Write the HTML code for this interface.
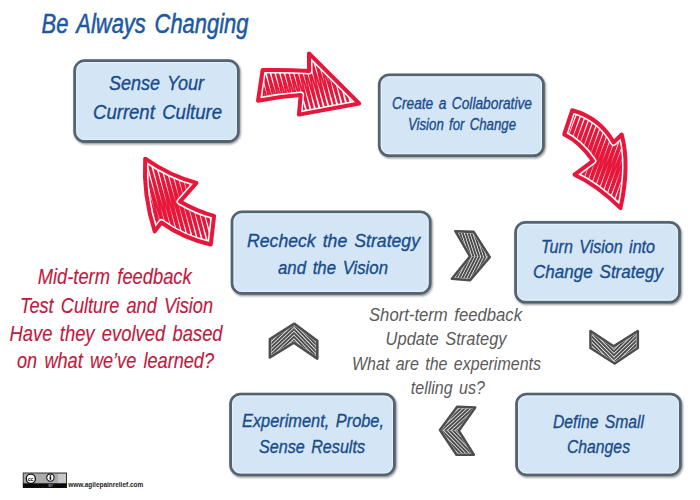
<!DOCTYPE html>
<html><head><meta charset="utf-8"><style>
html,body{margin:0;padding:0;background:#fff;width:700px;height:500px;overflow:hidden}
svg{display:block}
text{font-family:"Liberation Sans",sans-serif;font-style:italic;word-spacing:0.12em}
</style></head><body>
<svg width="700" height="500" viewBox="0 0 700 500">
<defs><filter id="sh" x="-10%" y="-10%" width="120%" height="120%"><feGaussianBlur stdDeviation="0.9"/></filter></defs>
<rect width="700" height="500" fill="#fff"/>
<text x="41.5" y="32.6" textLength="207" lengthAdjust="spacingAndGlyphs" font-size="27" fill="#1d58a0" stroke="#1d58a0" stroke-width="0.55">Be Always Changing</text>
<rect x="75.70" y="62.00" width="163.60" height="80.80" rx="10" fill="none" stroke="#000" stroke-opacity="0.45" stroke-width="2.8" filter="url(#sh)"/><rect x="74.70" y="60.70" width="163.60" height="80.80" rx="10" fill="#d4e6f6" stroke="#526371" stroke-width="2.8"/><rect x="76.70" y="62.70" width="159.60" height="76.80" rx="7" fill="none" stroke="#eef7fd" stroke-opacity="0.7" stroke-width="1"/>
<rect x="380.30" y="76.10" width="164.10" height="80.80" rx="10" fill="none" stroke="#000" stroke-opacity="0.45" stroke-width="2.8" filter="url(#sh)"/><rect x="379.30" y="74.80" width="164.10" height="80.80" rx="10" fill="#d4e6f6" stroke="#526371" stroke-width="2.8"/><rect x="381.30" y="76.80" width="160.10" height="76.80" rx="7" fill="none" stroke="#eef7fd" stroke-opacity="0.7" stroke-width="1"/>
<rect x="516.60" y="223.70" width="163.90" height="79.70" rx="10" fill="none" stroke="#000" stroke-opacity="0.45" stroke-width="2.8" filter="url(#sh)"/><rect x="515.60" y="222.40" width="163.90" height="79.70" rx="10" fill="#d4e6f6" stroke="#526371" stroke-width="2.8"/><rect x="517.60" y="224.40" width="159.90" height="75.70" rx="7" fill="none" stroke="#eef7fd" stroke-opacity="0.7" stroke-width="1"/>
<rect x="233.10" y="213.10" width="198.00" height="81.50" rx="10" fill="none" stroke="#000" stroke-opacity="0.45" stroke-width="2.8" filter="url(#sh)"/><rect x="232.10" y="211.80" width="198.00" height="81.50" rx="10" fill="#d4e6f6" stroke="#526371" stroke-width="2.8"/><rect x="234.10" y="213.80" width="194.00" height="77.50" rx="7" fill="none" stroke="#eef7fd" stroke-opacity="0.7" stroke-width="1"/>
<rect x="231.60" y="395.40" width="163.80" height="80.70" rx="10" fill="none" stroke="#000" stroke-opacity="0.45" stroke-width="2.8" filter="url(#sh)"/><rect x="230.60" y="394.10" width="163.80" height="80.70" rx="10" fill="#d4e6f6" stroke="#526371" stroke-width="2.8"/><rect x="232.60" y="396.10" width="159.80" height="76.70" rx="7" fill="none" stroke="#eef7fd" stroke-opacity="0.7" stroke-width="1"/>
<rect x="517.60" y="395.40" width="163.80" height="80.70" rx="10" fill="none" stroke="#000" stroke-opacity="0.45" stroke-width="2.8" filter="url(#sh)"/><rect x="516.60" y="394.10" width="163.80" height="80.70" rx="10" fill="#d4e6f6" stroke="#526371" stroke-width="2.8"/><rect x="518.60" y="396.10" width="159.80" height="76.70" rx="7" fill="none" stroke="#eef7fd" stroke-opacity="0.7" stroke-width="1"/>
<text x="109" y="90.3" textLength="95" lengthAdjust="spacingAndGlyphs" font-size="19.5" fill="#194c8a" stroke="#194c8a" stroke-width="0.35">Sense Your</text>
<text x="93" y="118.8" textLength="129" lengthAdjust="spacingAndGlyphs" font-size="19.5" fill="#194c8a" stroke="#194c8a" stroke-width="0.35">Current Culture</text>
<text x="392" y="109" textLength="140" lengthAdjust="spacingAndGlyphs" font-size="16" fill="#194c8a" stroke="#194c8a" stroke-width="0.35">Create a Collaborative</text>
<text x="408" y="129.5" textLength="108" lengthAdjust="spacingAndGlyphs" font-size="16.5" fill="#194c8a" stroke="#194c8a" stroke-width="0.35">Vision for Change</text>
<text x="541" y="252.5" textLength="114" lengthAdjust="spacingAndGlyphs" font-size="19" fill="#194c8a" stroke="#194c8a" stroke-width="0.35">Turn Vision into</text>
<text x="533" y="278.3" textLength="130" lengthAdjust="spacingAndGlyphs" font-size="19" fill="#194c8a" stroke="#194c8a" stroke-width="0.35">Change Strategy</text>
<text x="247" y="247" textLength="173" lengthAdjust="spacingAndGlyphs" font-size="19" fill="#194c8a" stroke="#194c8a" stroke-width="0.35">Recheck the Strategy</text>
<text x="278" y="273.8" textLength="110" lengthAdjust="spacingAndGlyphs" font-size="19" fill="#194c8a" stroke="#194c8a" stroke-width="0.35">and the Vision</text>
<text x="242" y="427" textLength="142" lengthAdjust="spacingAndGlyphs" font-size="19" fill="#194c8a" stroke="#194c8a" stroke-width="0.35">Experiment, Probe,</text>
<text x="259" y="453" textLength="106" lengthAdjust="spacingAndGlyphs" font-size="19" fill="#194c8a" stroke="#194c8a" stroke-width="0.35">Sense Results</text>
<text x="553" y="428" textLength="91" lengthAdjust="spacingAndGlyphs" font-size="19" fill="#194c8a" stroke="#194c8a" stroke-width="0.35">Define Small</text>
<text x="567" y="453" textLength="63" lengthAdjust="spacingAndGlyphs" font-size="19" fill="#194c8a" stroke="#194c8a" stroke-width="0.35">Changes</text>
<text x="37.7" y="284" textLength="154" lengthAdjust="spacingAndGlyphs" font-size="22" fill="#c01a3e" stroke="#c01a3e" stroke-width="0.15">Mid-term feedback</text>
<text x="20" y="312.5" textLength="193" lengthAdjust="spacingAndGlyphs" font-size="22" fill="#c01a3e" stroke="#c01a3e" stroke-width="0.15">Test Culture and Vision</text>
<text x="9.6" y="340.5" textLength="213" lengthAdjust="spacingAndGlyphs" font-size="22" fill="#c01a3e" stroke="#c01a3e" stroke-width="0.15">Have they evolved based</text>
<text x="17" y="368" textLength="197" lengthAdjust="spacingAndGlyphs" font-size="22" fill="#c01a3e" stroke="#c01a3e" stroke-width="0.15">on what we’ve learned?</text>
<text x="369" y="321" textLength="153" lengthAdjust="spacingAndGlyphs" font-size="19" fill="#5a5a5a">Short-term feedback</text>
<text x="385.6" y="345.3" textLength="121" lengthAdjust="spacingAndGlyphs" font-size="19" fill="#5a5a5a">Update Strategy</text>
<text x="352" y="370.3" textLength="189" lengthAdjust="spacingAndGlyphs" font-size="19" fill="#5a5a5a">What are the experiments</text>
<text x="410.8" y="394" textLength="74" lengthAdjust="spacingAndGlyphs" font-size="19" fill="#5a5a5a">telling us?</text>
<clipPath id="c1"><path d="M262.6,70.1 Q286,69.5 309,71 L309,53.4 L359.2,103.5 L298.9,114.6 L300.7,95.1 Q280,96.5 258,100.7 Z"/></clipPath><g clip-path="url(#c1)"><path d="M227.4,50.0 L229.6,118.0 L231.9,50.0 L234.1,118.0 L236.4,50.0 L238.6,118.0 L240.9,50.0 L243.1,118.0 L245.4,50.0 L247.6,118.0 L249.9,50.0 L252.1,118.0 L254.4,50.0 L256.6,118.0 L258.9,50.0 L261.1,118.0 L263.4,50.0 L265.6,118.0 L267.9,50.0 L270.1,118.0 L272.4,50.0 L274.6,118.0 L276.9,50.0 L279.1,118.0 L281.4,50.0 L283.6,118.0 L285.9,50.0 L288.1,118.0 L290.4,50.0 L292.6,118.0 L294.9,50.0 L297.1,118.0 L299.4,50.0 L301.6,118.0 L303.9,50.0 L306.1,118.0 L308.4,50.0 L310.6,118.0 L312.9,50.0 L315.1,118.0 L317.4,50.0 L319.6,118.0 L321.9,50.0 L324.1,118.0 L326.4,50.0 L328.6,118.0 L330.9,50.0 L333.1,118.0 L335.4,50.0 L337.6,118.0 L339.9,50.0 L342.1,118.0 L344.4,50.0 L346.6,118.0 L348.9,50.0 L351.1,118.0 L353.4,50.0 L355.6,118.0 L357.9,50.0 L360.1,118.0 L362.4,50.0 L364.6,118.0 L366.9,50.0 L369.1,118.0 L371.4,50.0 L373.6,118.0 L375.9,50.0 L378.1,118.0 L380.4,50.0 L382.6,118.0 L384.9,50.0 L387.1,118.0 L389.4,50.0 L391.6,118.0 L393.9,50.0" fill="none" stroke="#e6173b" stroke-width="2.0" transform="rotate(-15 309.0 84.0)"/><path d="M262.6,70.1 Q286,69.5 309,71 L309,53.4 L359.2,103.5 L298.9,114.6 L300.7,95.1 Q280,96.5 258,100.7 Z" fill="none" stroke="#fff" stroke-width="7" stroke-linejoin="round"/></g><path d="M262.6,70.1 Q286,69.5 309,71 L309,53.4 L359.2,103.5 L298.9,114.6 L300.7,95.1 Q280,96.5 258,100.7 Z" fill="none" stroke="#e6173b" stroke-width="4" stroke-linejoin="round"/>
<clipPath id="c2"><path d="M572.2,110.3 Q600,118 613.6,142.5 L621.7,134.5 Q630,165 620.5,208.1 Q597,185 574.5,174.7 L593,160.9 Q580,142 564.2,134.5 Z"/></clipPath><g clip-path="url(#c2)"><path d="M514.7,99.5 L517.0,219.5 L519.2,99.5 L521.5,219.5 L523.7,99.5 L526.0,219.5 L528.2,99.5 L530.5,219.5 L532.7,99.5 L535.0,219.5 L537.2,99.5 L539.5,219.5 L541.7,99.5 L544.0,219.5 L546.2,99.5 L548.5,219.5 L550.7,99.5 L553.0,219.5 L555.2,99.5 L557.5,219.5 L559.7,99.5 L562.0,219.5 L564.2,99.5 L566.5,219.5 L568.7,99.5 L571.0,219.5 L573.2,99.5 L575.5,219.5 L577.7,99.5 L580.0,219.5 L582.2,99.5 L584.5,219.5 L586.7,99.5 L589.0,219.5 L591.2,99.5 L593.5,219.5 L595.7,99.5 L598.0,219.5 L600.2,99.5 L602.5,219.5 L604.7,99.5 L607.0,219.5 L609.2,99.5 L611.5,219.5 L613.7,99.5 L616.0,219.5 L618.2,99.5 L620.5,219.5 L622.7,99.5 L625.0,219.5 L627.2,99.5 L629.5,219.5 L631.7,99.5 L634.0,219.5 L636.2,99.5 L638.5,219.5 L640.7,99.5 L643.0,219.5 L645.2,99.5 L647.5,219.5 L649.7,99.5 L652.0,219.5 L654.2,99.5 L656.5,219.5 L658.7,99.5 L661.0,219.5 L663.2,99.5 L665.5,219.5 L667.7,99.5 L670.0,219.5 L672.2,99.5 L674.5,219.5 L676.7,99.5 L679.0,219.5" fill="none" stroke="#e6173b" stroke-width="2.2" transform="rotate(20 595.5 159.5)"/><path d="M572.2,110.3 Q600,118 613.6,142.5 L621.7,134.5 Q630,165 620.5,208.1 Q597,185 574.5,174.7 L593,160.9 Q580,142 564.2,134.5 Z" fill="none" stroke="#fff" stroke-width="7" stroke-linejoin="round"/></g><path d="M572.2,110.3 Q600,118 613.6,142.5 L621.7,134.5 Q630,165 620.5,208.1 Q597,185 574.5,174.7 L593,160.9 Q580,142 564.2,134.5 Z" fill="none" stroke="#e6173b" stroke-width="4" stroke-linejoin="round"/>
<clipPath id="c3"><path d="M145.2,158.7 Q170,176 196.5,182.9 L180,201.6 Q198,212 214.1,215.9 L210.8,244.5 Q183,238 161.3,222.5 L154.7,231.3 Q143,195 145.2,158.7 Z"/></clipPath><g clip-path="url(#c3)"><path d="M110.4,141.5 L112.6,261.5 L114.9,141.5 L117.1,261.5 L119.4,141.5 L121.6,261.5 L123.9,141.5 L126.1,261.5 L128.4,141.5 L130.6,261.5 L132.9,141.5 L135.1,261.5 L137.4,141.5 L139.6,261.5 L141.9,141.5 L144.1,261.5 L146.4,141.5 L148.6,261.5 L150.9,141.5 L153.1,261.5 L155.4,141.5 L157.6,261.5 L159.9,141.5 L162.1,261.5 L164.4,141.5 L166.6,261.5 L168.9,141.5 L171.1,261.5 L173.4,141.5 L175.6,261.5 L177.9,141.5 L180.1,261.5 L182.4,141.5 L184.6,261.5 L186.9,141.5 L189.1,261.5 L191.4,141.5 L193.6,261.5 L195.9,141.5 L198.1,261.5 L200.4,141.5 L202.6,261.5 L204.9,141.5 L207.1,261.5 L209.4,141.5 L211.6,261.5 L213.9,141.5 L216.1,261.5 L218.4,141.5 L220.6,261.5 L222.9,141.5 L225.1,261.5 L227.4,141.5 L229.6,261.5 L231.9,141.5 L234.1,261.5 L236.4,141.5 L238.6,261.5 L240.9,141.5 L243.1,261.5 L245.4,141.5 L247.6,261.5 L249.9,141.5 L252.1,261.5" fill="none" stroke="#e6173b" stroke-width="2.2" transform="rotate(-15 180.0 201.5)"/><path d="M145.2,158.7 Q170,176 196.5,182.9 L180,201.6 Q198,212 214.1,215.9 L210.8,244.5 Q183,238 161.3,222.5 L154.7,231.3 Q143,195 145.2,158.7 Z" fill="none" stroke="#fff" stroke-width="7" stroke-linejoin="round"/></g><path d="M145.2,158.7 Q170,176 196.5,182.9 L180,201.6 Q198,212 214.1,215.9 L210.8,244.5 Q183,238 161.3,222.5 L154.7,231.3 Q143,195 145.2,158.7 Z" fill="none" stroke="#e6173b" stroke-width="4" stroke-linejoin="round"/>
<g><clipPath id="hg0u"><path d="M455.4,231.2 L473.6,231.9 L489.7,257.1 L470.1,256.4 Z"/></clipPath><path clip-path="url(#hg0u)" d="M511.0,189.2 L536.0,265.2 M508.4,190.1 L533.4,266.1 M505.8,190.9 L530.9,266.9 M503.3,191.8 L528.3,267.8 M500.7,192.6 L525.8,268.6 M498.1,193.5 L523.2,269.4 M495.6,194.3 L520.6,270.3 M493.0,195.2 L518.1,271.1 M490.4,196.0 L515.5,272.0 M487.9,196.9 L512.9,272.8 M485.3,197.7 L510.4,273.7 M482.7,198.6 L507.8,274.5 M480.2,199.4 L505.2,275.4 M477.6,200.2 L502.7,276.2 M475.1,201.1 L500.1,277.1 M472.5,201.9 L497.6,277.9 M469.9,202.8 L495.0,278.8 M467.4,203.6 L492.4,279.6 M464.8,204.5 L489.9,280.4 M462.2,205.3 L487.3,281.3 M459.7,206.2 L484.7,282.1 M457.1,207.0 L482.2,283.0 M454.5,207.9 L479.6,283.8 M452.0,208.7 L477.0,284.7 M449.4,209.5 L474.5,285.5 M446.8,210.4 L471.9,286.4 M444.3,211.2 L469.3,287.2 M441.7,212.1 L466.8,288.1 M439.2,212.9 L464.2,288.9 M436.6,213.8 L461.7,289.7 M434.0,214.6 L459.1,290.6 M431.5,215.5 L456.5,291.4 M428.9,216.3 L454.0,292.3 M426.3,217.2 L451.4,293.1 M423.8,218.0 L448.8,294.0 M421.2,218.9 L446.3,294.8 M418.6,219.7 L443.7,295.7 M416.1,220.5 L441.1,296.5 M413.5,221.4 L438.6,297.4 M411.0,222.2 L436.0,298.2 M408.4,223.1 L433.4,299.1 " stroke="#4d4d4d" stroke-width="2.0" fill="none"/><clipPath id="hg0l"><path d="M470.1,256.4 L489.7,257.1 L470.1,280.2 L451.9,278.8 Z"/></clipPath><path clip-path="url(#hg0l)" d="M536.7,257.1 L500.3,328.3 M534.3,255.9 L497.9,327.1 M531.9,254.6 L495.5,325.9 M529.5,253.4 L493.1,324.6 M527.1,252.2 L490.7,323.4 M524.7,251.0 L488.3,322.2 M522.3,249.7 L485.9,321.0 M519.9,248.5 L483.5,319.7 M517.5,247.3 L481.1,318.5 M515.1,246.0 L478.7,317.3 M512.7,244.8 L476.3,316.0 M510.3,243.6 L473.9,314.8 M507.9,242.4 L471.5,313.6 M505.5,241.1 L469.1,312.3 M503.1,239.9 L466.7,311.1 M500.7,238.7 L464.3,309.9 M498.3,237.4 L461.8,308.7 M495.9,236.2 L459.4,307.4 M493.5,235.0 L457.0,306.2 M491.1,233.7 L454.6,305.0 M488.7,232.5 L452.2,303.7 M486.3,231.3 L449.8,302.5 M483.9,230.1 L447.4,301.3 M481.5,228.8 L445.0,300.0 M479.1,227.6 L442.6,298.8 M476.6,226.4 L440.2,297.6 M474.2,225.1 L437.8,296.4 M471.8,223.9 L435.4,295.1 M469.4,222.7 L433.0,293.9 M467.0,221.4 L430.6,292.7 M464.6,220.2 L428.2,291.4 M462.2,219.0 L425.8,290.2 M459.8,217.8 L423.4,289.0 M457.4,216.5 L421.0,287.7 M455.0,215.3 L418.6,286.5 M452.6,214.1 L416.2,285.3 M450.2,212.8 L413.8,284.1 M447.8,211.6 L411.4,282.8 M445.4,210.4 L409.0,281.6 M443.0,209.1 L406.6,280.4 M440.6,207.9 L404.2,279.1 " stroke="#4d4d4d" stroke-width="2.0" fill="none"/><clipPath id="mg0"><path d="M455.4,231.2 L473.6,231.9 L489.7,257.1 L470.1,280.2 L451.9,278.8 L470.1,256.4 Z"/></clipPath><path clip-path="url(#mg0)" d="M455.4,231.2 L473.6,231.9 L489.7,257.1 L470.1,280.2 L451.9,278.8 L470.1,256.4 Z" fill="none" stroke="#fff" stroke-width="3.0" stroke-linejoin="round"/><path d="M455.4,231.2 L473.6,231.9 L489.7,257.1 L470.1,280.2 L451.9,278.8 L470.1,256.4 Z" fill="none" stroke="#4d4d4d" stroke-width="2.6" stroke-linejoin="round"/></g>
<g><clipPath id="hg1u"><path d="M590.5,331 L590.5,348 L614.7,363.5 L613.6,346.4 Z"/></clipPath><path clip-path="url(#hg1u)" d="M613.0,280.9 L668.9,338.1 M611.1,282.8 L667.0,340.0 M609.2,284.7 L665.0,341.9 M607.2,286.5 L663.1,343.8 M605.3,288.4 L661.2,345.7 M603.4,290.3 L659.2,347.6 M601.4,292.2 L657.3,349.4 M599.5,294.1 L655.4,351.3 M597.6,296.0 L653.5,353.2 M595.6,297.9 L651.5,355.1 M593.7,299.7 L649.6,357.0 M591.8,301.6 L647.7,358.9 M589.8,303.5 L645.7,360.8 M587.9,305.4 L643.8,362.6 M586.0,307.3 L641.9,364.5 M584.0,309.2 L639.9,366.4 M582.1,311.1 L638.0,368.3 M580.2,312.9 L636.1,370.2 M578.2,314.8 L634.1,372.1 M576.3,316.7 L632.2,374.0 M574.4,318.6 L630.3,375.8 M572.5,320.5 L628.3,377.7 M570.5,322.4 L626.4,379.6 M568.6,324.3 L624.5,381.5 M566.7,326.1 L622.5,383.4 M564.7,328.0 L620.6,385.3 M562.8,329.9 L618.7,387.2 M560.9,331.8 L616.7,389.1 M558.9,333.7 L614.8,390.9 M557.0,335.6 L612.9,392.8 M555.1,337.5 L610.9,394.7 M553.1,339.3 L609.0,396.6 M551.2,341.2 L607.1,398.5 M549.3,343.1 L605.2,400.4 M547.3,345.0 L603.2,402.3 M545.4,346.9 L601.3,404.1 M543.5,348.8 L599.4,406.0 M541.5,350.7 L597.4,407.9 M539.6,352.6 L595.5,409.8 M537.7,354.4 L593.6,411.7 M535.7,356.3 L591.6,413.6 " stroke="#4d4d4d" stroke-width="2.0" fill="none"/><clipPath id="hg1l"><path d="M613.6,346.4 L614.7,363.5 L637.8,348 L637.8,331 Z"/></clipPath><path clip-path="url(#hg1l)" d="M559.6,336.7 L616.7,280.7 M561.5,338.6 L618.6,282.6 M563.4,340.6 L620.5,284.5 M565.3,342.5 L622.4,286.4 M567.2,344.4 L624.3,288.4 M569.1,346.3 L626.1,290.3 M571.0,348.3 L628.0,292.2 M572.8,350.2 L629.9,294.2 M574.7,352.1 L631.8,296.1 M576.6,354.1 L633.7,298.0 M578.5,356.0 L635.6,299.9 M580.4,357.9 L637.5,301.9 M582.3,359.8 L639.4,303.8 M584.2,361.8 L641.3,305.7 M586.1,363.7 L643.2,307.6 M588.0,365.6 L645.1,309.6 M589.9,367.5 L647.0,311.5 M591.8,369.5 L648.8,313.4 M593.6,371.4 L650.7,315.3 M595.5,373.3 L652.6,317.3 M597.4,375.2 L654.5,319.2 M599.3,377.2 L656.4,321.1 M601.2,379.1 L658.3,323.1 M603.1,381.0 L660.2,325.0 M605.0,383.0 L662.1,326.9 M606.9,384.9 L664.0,328.8 M608.8,386.8 L665.9,330.8 M610.7,388.7 L667.8,332.7 M612.6,390.7 L669.7,334.6 M614.5,392.6 L671.5,336.5 M616.3,394.5 L673.4,338.5 M618.2,396.4 L675.3,340.4 M620.1,398.4 L677.2,342.3 M622.0,400.3 L679.1,344.3 M623.9,402.2 L681.0,346.2 M625.8,404.1 L682.9,348.1 M627.7,406.1 L684.8,350.0 M629.6,408.0 L686.7,352.0 M631.5,409.9 L688.6,353.9 M633.4,411.9 L690.5,355.8 M635.3,413.8 L692.3,357.7 " stroke="#4d4d4d" stroke-width="2.0" fill="none"/><clipPath id="mg1"><path d="M590.5,331 L590.5,348 L614.7,363.5 L637.8,348 L637.8,331 L613.6,346.4 Z"/></clipPath><path clip-path="url(#mg1)" d="M590.5,331 L590.5,348 L614.7,363.5 L637.8,348 L637.8,331 L613.6,346.4 Z" fill="none" stroke="#fff" stroke-width="3.0" stroke-linejoin="round"/><path d="M590.5,331 L590.5,348 L614.7,363.5 L637.8,348 L637.8,331 L613.6,346.4 Z" fill="none" stroke="#4d4d4d" stroke-width="2.6" stroke-linejoin="round"/></g>
<g><clipPath id="hg2u"><path d="M317.3,358.6 L317.3,340.9 L294.4,323.7 L293.9,342.6 Z"/></clipPath><path clip-path="url(#hg2u)" d="M294.2,407.7 L239.0,349.8 M296.2,405.8 L241.0,347.9 M298.2,403.9 L242.9,346.0 M300.1,402.1 L244.9,344.2 M302.1,400.2 L246.9,342.3 M304.0,398.3 L248.8,340.4 M306.0,396.5 L250.8,338.6 M307.9,394.6 L252.7,336.7 M309.9,392.8 L254.7,334.9 M311.8,390.9 L256.6,333.0 M313.8,389.0 L258.6,331.1 M315.7,387.2 L260.5,329.3 M317.7,385.3 L262.5,327.4 M319.7,383.4 L264.4,325.5 M321.6,381.6 L266.4,323.7 M323.6,379.7 L268.4,321.8 M325.5,377.9 L270.3,320.0 M327.5,376.0 L272.3,318.1 M329.4,374.1 L274.2,316.2 M331.4,372.3 L276.2,314.4 M333.3,370.4 L278.1,312.5 M335.3,368.5 L280.1,310.6 M337.2,366.7 L282.0,308.8 M339.2,364.8 L284.0,306.9 M341.1,362.9 L285.9,305.0 M343.1,361.1 L287.9,303.2 M345.1,359.2 L289.8,301.3 M347.0,357.4 L291.8,299.5 M349.0,355.5 L293.8,297.6 M350.9,353.6 L295.7,295.7 M352.9,351.8 L297.7,293.9 M354.8,349.9 L299.6,292.0 M356.8,348.0 L301.6,290.1 M358.7,346.2 L303.5,288.3 M360.7,344.3 L305.5,286.4 M362.6,342.5 L307.4,284.6 M364.6,340.6 L309.4,282.7 M366.5,338.7 L311.3,280.8 M368.5,336.9 L313.3,279.0 M370.5,335.0 L315.2,277.1 M372.4,333.1 L317.2,275.2 " stroke="#4d4d4d" stroke-width="2.0" fill="none"/><clipPath id="hg2l"><path d="M293.9,342.6 L294.4,323.7 L269.9,339.1 L269.9,357.4 Z"/></clipPath><path clip-path="url(#hg2l)" d="M348.2,352.2 L290.4,407.4 M346.4,350.2 L288.5,405.4 M344.5,348.2 L286.6,403.5 M342.7,346.3 L284.8,401.5 M340.8,344.3 L282.9,399.6 M338.9,342.4 L281.0,397.6 M337.1,340.4 L279.2,395.7 M335.2,338.5 L277.3,393.7 M333.3,336.5 L275.5,391.8 M331.5,334.6 L273.6,389.8 M329.6,332.6 L271.7,387.8 M327.7,330.7 L269.9,385.9 M325.9,328.7 L268.0,383.9 M324.0,326.8 L266.1,382.0 M322.1,324.8 L264.3,380.0 M320.3,322.9 L262.4,378.1 M318.4,320.9 L260.5,376.1 M316.6,318.9 L258.7,374.2 M314.7,317.0 L256.8,372.2 M312.8,315.0 L255.0,370.3 M311.0,313.1 L253.1,368.3 M309.1,311.1 L251.2,366.4 M307.2,309.2 L249.4,364.4 M305.4,307.2 L247.5,362.5 M303.5,305.3 L245.6,360.5 M301.6,303.3 L243.8,358.5 M299.8,301.4 L241.9,356.6 M297.9,299.4 L240.0,354.6 M296.1,297.5 L238.2,352.7 M294.2,295.5 L236.3,350.7 M292.3,293.6 L234.4,348.8 M290.5,291.6 L232.6,346.8 M288.6,289.6 L230.7,344.9 M286.7,287.7 L228.9,342.9 M284.9,285.7 L227.0,341.0 M283.0,283.8 L225.1,339.0 M281.1,281.8 L223.3,337.1 M279.3,279.9 L221.4,335.1 M277.4,277.9 L219.5,333.2 M275.5,276.0 L217.7,331.2 M273.7,274.0 L215.8,329.2 " stroke="#4d4d4d" stroke-width="2.0" fill="none"/><clipPath id="mg2"><path d="M317.3,358.6 L317.3,340.9 L294.4,323.7 L269.9,339.1 L269.9,357.4 L293.9,342.6 Z"/></clipPath><path clip-path="url(#mg2)" d="M317.3,358.6 L317.3,340.9 L294.4,323.7 L269.9,339.1 L269.9,357.4 L293.9,342.6 Z" fill="none" stroke="#fff" stroke-width="3.0" stroke-linejoin="round"/><path d="M317.3,358.6 L317.3,340.9 L294.4,323.7 L269.9,339.1 L269.9,357.4 L293.9,342.6 Z" fill="none" stroke="#4d4d4d" stroke-width="2.6" stroke-linejoin="round"/></g>
<g><clipPath id="hg3u"><path d="M475.2,407.5 L457.2,406.8 L440,430 L458.75,430.75 Z"/></clipPath><path clip-path="url(#hg3u)" d="M523.8,431.3 L465.0,485.6 M522.0,429.3 L463.2,483.6 M520.1,427.3 L461.4,481.6 M518.3,425.3 L459.5,479.6 M516.5,423.4 L457.7,477.6 M514.7,421.4 L455.9,475.7 M512.8,419.4 L454.0,473.7 M511.0,417.4 L452.2,471.7 M509.2,415.4 L450.4,469.7 M507.3,413.4 L448.5,467.7 M505.5,411.5 L446.7,465.7 M503.7,409.5 L444.9,463.8 M501.8,407.5 L443.1,461.8 M500.0,405.5 L441.2,459.8 M498.2,403.5 L439.4,457.8 M496.3,401.5 L437.6,455.8 M494.5,399.6 L435.7,453.8 M492.7,397.6 L433.9,451.8 M490.8,395.6 L432.1,449.9 M489.0,393.6 L430.2,447.9 M487.2,391.6 L428.4,445.9 M485.3,389.6 L426.6,443.9 M483.5,387.7 L424.7,441.9 M481.7,385.7 L422.9,439.9 M479.8,383.7 L421.1,438.0 M478.0,381.7 L419.2,436.0 M476.2,379.7 L417.4,434.0 M474.4,377.7 L415.6,432.0 M472.5,375.8 L413.7,430.0 M470.7,373.8 L411.9,428.0 M468.9,371.8 L410.1,426.1 M467.0,369.8 L408.3,424.1 M465.2,367.8 L406.4,422.1 M463.4,365.8 L404.6,420.1 M461.5,363.9 L402.8,418.1 M459.7,361.9 L400.9,416.1 M457.9,359.9 L399.1,414.2 M456.0,357.9 L397.3,412.2 M454.2,355.9 L395.4,410.2 M452.4,353.9 L393.6,408.2 M450.5,352.0 L391.8,406.2 " stroke="#4d4d4d" stroke-width="2.0" fill="none"/><clipPath id="hg3l"><path d="M458.75,430.75 L440,430 L456.5,454.8 L473.75,454.8 Z"/></clipPath><path clip-path="url(#hg3l)" d="M468.4,376.3 L523.9,433.9 M466.4,378.2 L521.9,435.8 M464.5,380.1 L520.0,437.7 M462.5,381.9 L518.1,439.5 M460.6,383.8 L516.1,441.4 M458.6,385.7 L514.2,443.3 M456.7,387.6 L512.2,445.1 M454.8,389.4 L510.3,447.0 M452.8,391.3 L508.3,448.9 M450.9,393.2 L506.4,450.8 M448.9,395.1 L504.5,452.6 M447.0,396.9 L502.5,454.5 M445.0,398.8 L500.6,456.4 M443.1,400.7 L498.6,458.3 M441.2,402.5 L496.7,460.1 M439.2,404.4 L494.7,462.0 M437.3,406.3 L492.8,463.9 M435.3,408.2 L490.8,465.8 M433.4,410.0 L488.9,467.6 M431.4,411.9 L487.0,469.5 M429.5,413.8 L485.0,471.4 M427.5,415.7 L483.1,473.3 M425.6,417.5 L481.1,475.1 M423.7,419.4 L479.2,477.0 M421.7,421.3 L477.2,478.9 M419.8,423.2 L475.3,480.8 M417.8,425.0 L473.3,482.6 M415.9,426.9 L471.4,484.5 M413.9,428.8 L469.5,486.4 M412.0,430.7 L467.5,488.2 M410.0,432.5 L465.6,490.1 M408.1,434.4 L463.6,492.0 M406.2,436.3 L461.7,493.9 M404.2,438.2 L459.7,495.7 M402.3,440.0 L457.8,497.6 M400.3,441.9 L455.9,499.5 M398.4,443.8 L453.9,501.4 M396.4,445.6 L452.0,503.2 M394.5,447.5 L450.0,505.1 M392.6,449.4 L448.1,507.0 M390.6,451.3 L446.1,508.9 " stroke="#4d4d4d" stroke-width="2.0" fill="none"/><clipPath id="mg3"><path d="M475.2,407.5 L457.2,406.8 L440,430 L456.5,454.8 L473.75,454.8 L458.75,430.75 Z"/></clipPath><path clip-path="url(#mg3)" d="M475.2,407.5 L457.2,406.8 L440,430 L456.5,454.8 L473.75,454.8 L458.75,430.75 Z" fill="none" stroke="#fff" stroke-width="3.0" stroke-linejoin="round"/><path d="M475.2,407.5 L457.2,406.8 L440,430 L456.5,454.8 L473.75,454.8 L458.75,430.75 Z" fill="none" stroke="#4d4d4d" stroke-width="2.6" stroke-linejoin="round"/></g>
<g style="font-style:normal"><rect x="23.2" y="473" width="43.3" height="14.5" fill="#ababab" stroke="#222" stroke-width="0.9"/><rect x="23" y="483.3" width="43.7" height="4.5" fill="#0a0a0a"/><rect x="58" y="474" width="8" height="9" fill="#c8c8c8"/><circle cx="30.8" cy="478.7" r="4.6" fill="#fff" stroke="#111" stroke-width="1.3"/><text x="27.7" y="480.6" font-size="5.2" font-weight="bold" fill="#000" style="font-style:normal;word-spacing:0">cc</text><circle cx="50.4" cy="477.6" r="3.7" fill="#fff" stroke="#111" stroke-width="1.1"/><circle cx="50.4" cy="475.9" r="0.8" fill="#000"/><rect x="49.6" y="476.9" width="1.6" height="2.8" fill="#000"/><text x="48.6" y="487" font-size="3.4" fill="#ddd" style="font-style:normal;word-spacing:0">BY</text></g>
<text x="68.2" y="486.8" textLength="75" lengthAdjust="spacingAndGlyphs" font-size="6.8" font-weight="bold" fill="#1a1a1a" style="font-style:normal;word-spacing:0">www.agilepainrelief.com</text>
</svg>
</body></html>
